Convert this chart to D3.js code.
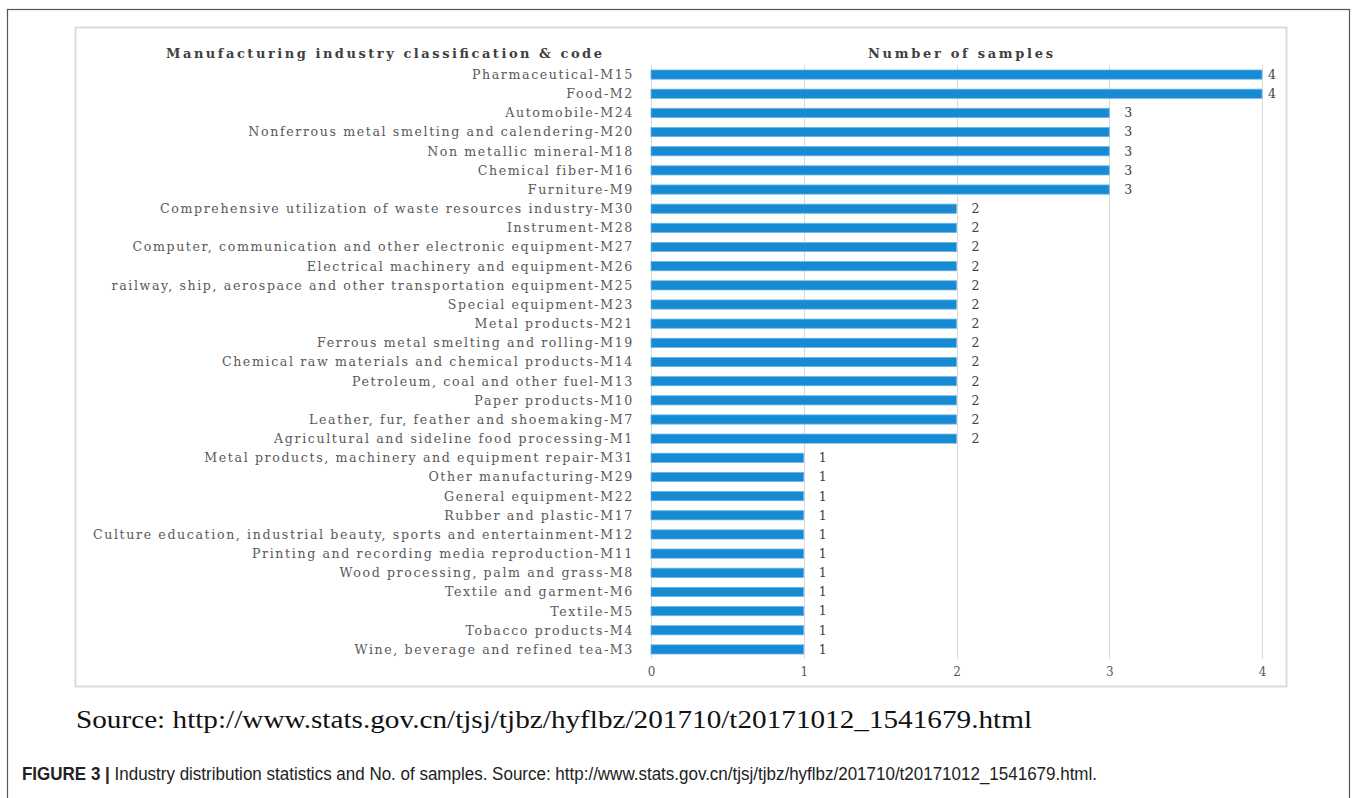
<!DOCTYPE html>
<html>
<head>
<meta charset="utf-8">
<script src="https://cdn.jsdelivr.net/npm/d3@7"></script>
<style>
  html, body { margin: 0; padding: 0; background: #ffffff; }
  svg { display: block; }
</style>
</head>
<body>
<svg id="chart" width="1356" height="798"></svg>
<script>
// ---- data ----
const categories = [
  "Pharmaceutical-M15",
  "Food-M2",
  "Automobile-M24",
  "Nonferrous metal smelting and calendering-M20",
  "Non metallic mineral-M18",
  "Chemical fiber-M16",
  "Furniture-M9",
  "Comprehensive utilization of waste resources industry-M30",
  "Instrument-M28",
  "Computer, communication and other electronic equipment-M27",
  "Electrical machinery and equipment-M26",
  "railway, ship, aerospace and other transportation equipment-M25",
  "Special equipment-M23",
  "Metal products-M21",
  "Ferrous metal smelting and rolling-M19",
  "Chemical raw materials and chemical products-M14",
  "Petroleum, coal and other fuel-M13",
  "Paper products-M10",
  "Leather, fur, feather and shoemaking-M7",
  "Agricultural and sideline food processing-M1",
  "Metal products, machinery and equipment repair-M31",
  "Other manufacturing-M29",
  "General equipment-M22",
  "Rubber and plastic-M17",
  "Culture education, industrial beauty, sports and entertainment-M12",
  "Printing and recording media reproduction-M11",
  "Wood processing, palm and grass-M8",
  "Textile and garment-M6",
  "Textile-M5",
  "Tobacco products-M4",
  "Wine, beverage and refined tea-M3"
];
const samples = [4,4,3,3,3,3,3,2,2,2,2,2,2,2,2,2,2,2,2,2,1,1,1,1,1,1,1,1,1,1,1];
const xTicks = [0,1,2,3,4];
const leftHeader = "Manufacturing industry classification & code";
const rightHeader = "Number of samples";
const sourceText = "Source: http://www.stats.gov.cn/tjsj/tjbz/hyflbz/201710/t20171012_1541679.html";
const captionBold = "FIGURE 3 | ";
const captionText = "Industry distribution statistics and No. of samples. Source: http://www.stats.gov.cn/tjsj/tjbz/hyflbz/201710/t20171012_1541679.html.";

// ---- layout ----
const svg = d3.select("#chart");
const serif = "'DejaVu Serif', 'Liberation Serif', serif";
const timesLike = "'Liberation Serif', 'Times New Roman', serif";
const textGray = "#595959";

// outer figure frame
svg.append("rect")
  .attr("x", 7.5).attr("y", 9.5)
  .attr("width", 1342).attr("height", 820)
  .attr("fill", "none").attr("stroke", "#555").attr("stroke-width", 1.2);

// inner chart box
svg.append("rect")
  .attr("x", 75.5).attr("y", 27.5)
  .attr("width", 1211).attr("height", 659)
  .attr("fill", "#fff").attr("stroke", "#dcdcdc").attr("stroke-width", 2);

const x = d3.scaleLinear().domain([0, 4]).range([651, 1262]);
const y = d3.scaleBand().domain(categories).range([65, 659]).paddingInner(0.52).paddingOuter(0.26);

const plotTop = 65, plotBottom = 659;

// gridlines
svg.append("g").selectAll("line").data(xTicks).join("line")
  .attr("x1", d => Math.round(x(d)) + 0.5).attr("x2", d => Math.round(x(d)) + 0.5)
  .attr("y1", plotTop).attr("y2", plotBottom)
  .attr("stroke", "#d9d9d9").attr("stroke-width", 1);

// x axis tick labels via d3 axis
const xAxis = d3.axisBottom(x).tickValues(xTicks).tickSize(0).tickPadding(0).tickFormat(d3.format("d"));
const gx = svg.append("g").attr("transform", `translate(0, ${plotBottom + 17})`).call(xAxis);
gx.select(".domain").remove();
gx.selectAll("text")
  .attr("font-family", serif).attr("font-size", 12)
  .attr("fill", textGray).attr("dy", 0);

// bars
svg.append("g").selectAll("rect").data(categories).join("rect")
  .attr("x", x(0))
  .attr("y", d => y(d))
  .attr("width", (d, i) => x(samples[i]) - x(0))
  .attr("height", y.bandwidth())
  .attr("fill", "#168ad3")
  .attr("stroke", "#6db6e6").attr("stroke-width", 0.8);

// value labels
svg.append("g").selectAll("text").data(categories).join("text")
  .attr("x", (d, i) => Math.min(x(samples[i]) + 19, x(4) + 10))
  .attr("y", d => y(d) + y.bandwidth() / 2)
  .attr("dy", "0.35em")
  .attr("text-anchor", "middle")
  .attr("font-family", serif).attr("font-size", 12.5)
  .attr("fill", "#404040")
  .text((d, i) => samples[i]);

// category labels (y axis)
const yAxis = d3.axisLeft(y).tickSize(0).tickPadding(0);
const gy = svg.append("g").attr("transform", `translate(634, 0)`).call(yAxis);
gy.select(".domain").remove();
const labels = gy.selectAll("text")
  .attr("font-family", serif).attr("font-size", 12.6)
  .attr("fill", textGray).attr("dy", "0.35em");

// fit letter spacing so that the longest label spans the same width as the reference
let maxW = 0, maxChars = 1;
labels.each(function() {
  const w = this.getComputedTextLength();
  if (w > maxW) { maxW = w; maxChars = this.textContent.length; }
});
const ls = Math.max(0, (541 - maxW) / maxChars);
labels.attr("letter-spacing", ls + "px");

// headers
svg.append("text")
  .attr("x", 166).attr("y", 58)
  .attr("font-family", serif).attr("font-size", 13).attr("font-weight", "bold")
  .attr("fill", "#404040")
  .attr("textLength", 436).attr("lengthAdjust", "spacing")
  .text(leftHeader);

svg.append("text")
  .attr("x", 868).attr("y", 58)
  .attr("font-family", serif).attr("font-size", 13).attr("font-weight", "bold")
  .attr("fill", "#404040")
  .attr("textLength", 185).attr("lengthAdjust", "spacing")
  .text(rightHeader);

// source line
svg.append("text")
  .attr("x", 76).attr("y", 728)
  .attr("font-family", timesLike).attr("font-size", 26)
  .attr("fill", "#111")
  .attr("textLength", 956).attr("lengthAdjust", "spacingAndGlyphs")
  .text(sourceText);

// caption
const cap = svg.append("text")
  .attr("x", 22).attr("y", 780)
  .attr("font-family", "'Liberation Sans Narrow', 'Arial Narrow', 'Liberation Sans', sans-serif")
  .attr("font-size", 17.5)
  .attr("fill", "#222")
  .attr("textLength", 1075).attr("lengthAdjust", "spacingAndGlyphs");
cap.append("tspan").attr("font-weight", "bold").text(captionBold);
cap.append("tspan").text(captionText);
</script>
</body>
</html>
